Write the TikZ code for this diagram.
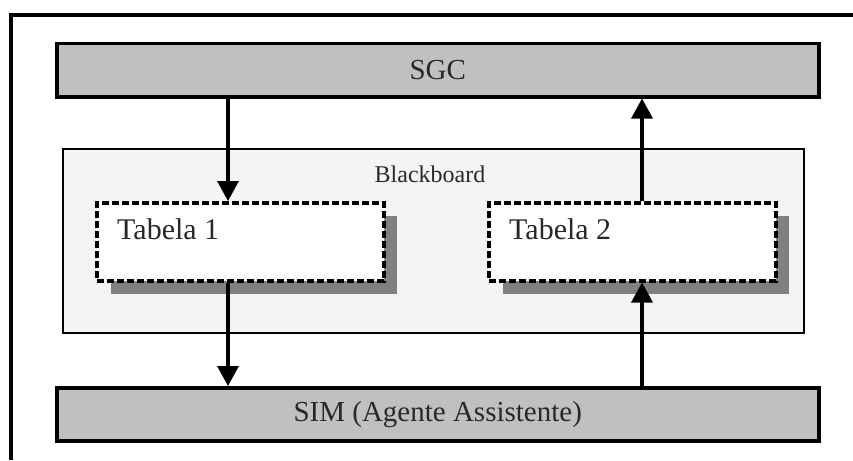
\documentclass[tikz,border=0pt]{standalone}
\usepackage{fontspec}
\setmainfont{Liberation Serif}
\usetikzlibrary{arrows.meta}
\definecolor{barfill}{RGB}{192,192,192}
\definecolor{bbfill}{RGB}{244,244,244}
\definecolor{shadowc}{RGB}{128,128,128}
\definecolor{txt}{RGB}{40,40,40}
\tikzset{
  bar/.style={draw=black, line width=3.5pt, fill=barfill, minimum width=762pt, minimum height=53pt, anchor=north west, inner sep=0pt, text=txt, font=\fontsize{29pt}{32pt}\selectfont},
  tabbox/.style={draw=black, line width=3.5pt, dash pattern=on 7pt off 3pt, fill=white, minimum width=287pt, minimum height=78pt, anchor=north west, inner sep=0pt},
  shad/.style={fill=shadowc, draw=none, minimum width=286pt, minimum height=78pt, anchor=north west, inner sep=0pt},
  tablabel/.style={anchor=base west, inner sep=0pt, text=txt, font=\fontsize{30pt}{33pt}\selectfont},
  arr/.style={line width=3.3pt, -{Triangle[width=21pt,length=20pt]}},
}
\begin{document}
\begin{tikzpicture}[x=1pt,y=-1pt]
\useasboundingbox (0,0) rectangle (853,460);
% outer frame (cropped at right and bottom)
\draw[line width=3.5pt] (11,460) -- (11,15) -- (853,15);
% top and bottom bars
\node[bar] (sgc) at (55,42) {SGC};
\node[bar] (sim) at (55,386) {SIM (Agente Assistente)};
% blackboard
\node[draw=black, line width=1.8pt, fill=bbfill, minimum width=741pt, minimum height=184pt, anchor=north west, inner sep=0pt] (bb) at (62,148) {};
\node[anchor=base, inner sep=0pt, text=txt, font=\fontsize{24pt}{27pt}\selectfont] (bblabel) at (430,182) {Blackboard};
% shadows
\node[shad] (sh1) at (111,216) {};
\node[shad] (sh2) at (503,216) {};
% tables
\node[tabbox] (t1) at (95,201) {};
\node[tabbox] (t2) at (487,201) {};
\node[tablabel] (t1l) at (117,239) {Tabela 1};
\node[tablabel] (t2l) at (509,239) {Tabela 2};
% arrow columns
\coordinate (la) at (228,0);
\coordinate (ra) at (642,0);
\draw[arr] (sgc.south -| la) -- (t1.north -| la);
\draw[arr] (t1.south -| la) -- (sim.north -| la);
\draw[arr] (sim.north -| ra) -- (t2.south -| ra);
\draw[arr] (t2.north -| ra) -- (sgc.south -| ra);
\end{tikzpicture}
\end{document}
